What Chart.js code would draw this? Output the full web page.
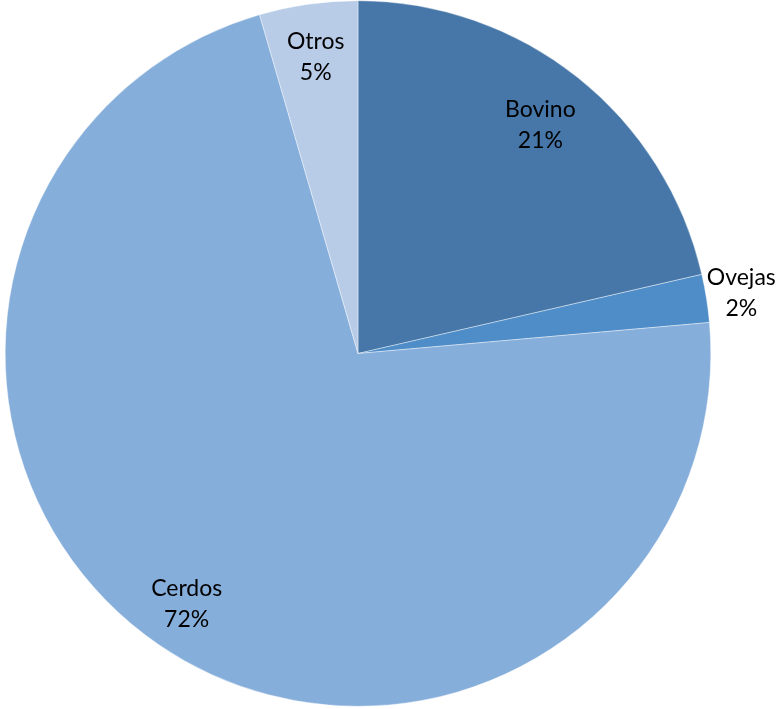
<!DOCTYPE html>
<html>
<head>
<meta charset="utf-8">
<script src="https://cdn.jsdelivr.net/npm/chart.js@4"></script>
<style>
  html, body { margin: 0; padding: 0; background: #ffffff; }
  #wrap { width: 784px; height: 709px; }
</style>
</head>
<body>
<div id="wrap"><canvas id="myChart"></canvas></div>
<script>
// Datos del gráfico
const categories = ['Bovino', 'Ovejas', 'Cerdos', 'Otros'];
const values = [21.4, 2.2, 71.9, 4.5];
const percentLabels = ['21%', '2%', '72%', '5%'];
const colors = ['#4677A8', '#4F8DC8', '#86AEDB', '#B8CCE8'];
// distancia de la etiqueta respecto al radio (Ovejas va fuera)
const labelRadius = [0.83, 1.1, 0.86, 0.85];

// Etiquetas dentro/fuera de cada porción
const sliceLabels = {
    id: 'sliceLabels',
    afterDatasetsDraw(chart) {
        const ctx = chart.ctx;
        const meta = chart.getDatasetMeta(0);
        ctx.save();
        ctx.font = '23px Lato, "Open Sans", sans-serif';
        ctx.fillStyle = '#000000';
        ctx.textAlign = 'center';
        ctx.textBaseline = 'middle';
        meta.data.forEach((arc, i) => {
            const p = arc.getProps(['x', 'y', 'startAngle', 'endAngle', 'outerRadius'], true);
            const mid = (p.startAngle + p.endAngle) / 2;
            const r = p.outerRadius * labelRadius[i];
            const x = p.x + Math.cos(mid) * r;
            const y = p.y + Math.sin(mid) * r;
            ctx.fillText(categories[i], x, y - 15);
            ctx.fillText(percentLabels[i], x, y + 16);
        });
        ctx.restore();
    }
};

const ctx = document.getElementById('myChart').getContext('2d');
const myChart = new Chart(ctx, {
    type: 'pie',
    data: {
        labels: categories,
        datasets: [{
            data: values,
            backgroundColor: colors,
            borderColor: '#ffffff',
            borderWidth: 0.4
        }]
    },
    options: {
        responsive: true,
        maintainAspectRatio: false,
        animation: false,
        layout: {
            padding: { left: 5, right: 73, top: 0, bottom: 2 }
        },
        plugins: {
            legend: { display: false },
            tooltip: { enabled: false }
        }
    },
    plugins: [sliceLabels]
});
</script>
</body>
</html>
